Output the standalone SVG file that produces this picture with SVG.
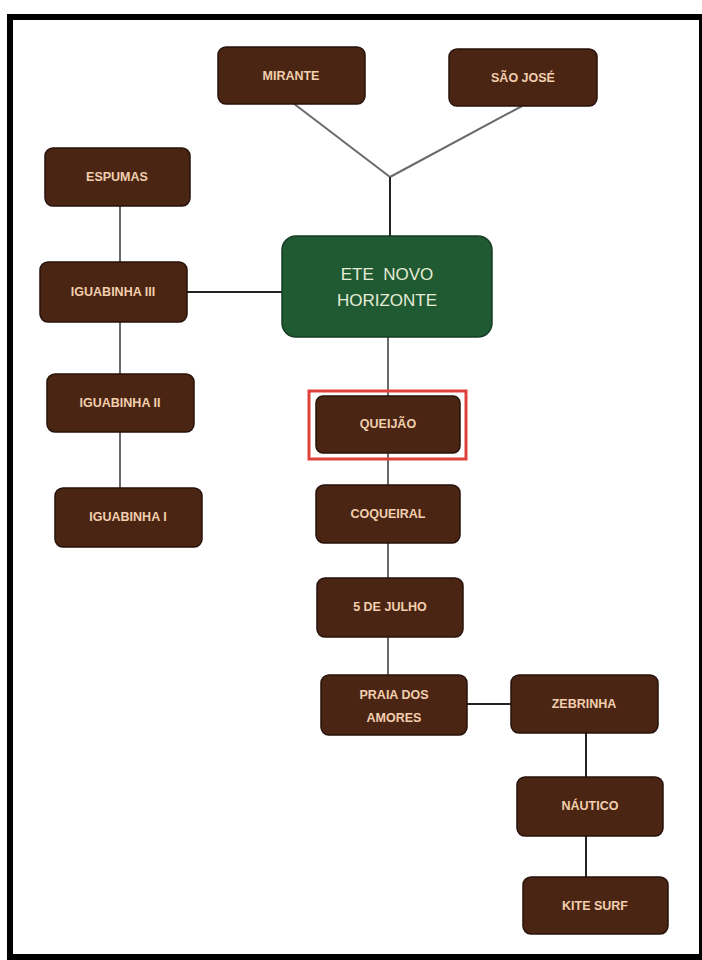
<svg xmlns="http://www.w3.org/2000/svg" width="702" height="960" viewBox="0 0 702 960">
<style>
.n{fill:#4b2513;stroke:#26120a;stroke-width:1.5}
.t{font-family:"Liberation Sans",Arial,sans-serif;font-weight:bold;font-size:12.5px;fill:#f2cfae;text-anchor:middle}
.g{fill:#1f5a33;stroke:#163d24;stroke-width:1.5}
.gt{font-family:"Liberation Sans",Arial,sans-serif;font-size:17px;fill:#e6ecd6;text-anchor:middle}
.c{stroke:#6a6a6a;stroke-width:2;fill:none}
.d{stroke:#222;stroke-width:2;fill:none}
</style>
<rect x="0" y="0" width="702" height="960" fill="#ffffff"/>
<rect x="10" y="17" width="692" height="940" fill="#ffffff" stroke="#000" stroke-width="6"/>
<g id="connectors">
<line class="c" x1="293" y1="103" x2="390" y2="177"/>
<line class="c" x1="522" y1="106" x2="390" y2="177"/>
<line class="d" x1="390" y1="177" x2="390" y2="236"/>
<line class="c" x1="120" y1="206" x2="120" y2="262"/>
<line class="c" x1="120" y1="322" x2="120" y2="374"/>
<line class="c" x1="120" y1="432" x2="120" y2="488"/>
<line class="d" x1="187" y1="292" x2="282" y2="292"/>
<line class="c" x1="388" y1="337" x2="388" y2="396"/>
<line class="c" x1="388" y1="453" x2="388" y2="485"/>
<line class="c" x1="388" y1="543" x2="388" y2="578"/>
<line class="c" x1="388" y1="637" x2="388" y2="675"/>
<line class="d" x1="467" y1="704" x2="511" y2="704"/>
<line class="d" x1="586" y1="733" x2="586" y2="777"/>
<line class="d" x1="586" y1="836" x2="586" y2="877"/>
</g>
<g id="mirante"><rect class="n" x="218" y="47" width="147" height="57" rx="8"/><text class="t" x="291" y="80">MIRANTE</text></g>
<g id="sao-jose"><rect class="n" x="449" y="49" width="148" height="57" rx="8"/><text class="t" x="523" y="82">SÃO JOSÉ</text></g>
<g id="espumas"><rect class="n" x="45" y="148" width="145" height="58" rx="8"/><text class="t" x="117" y="181">ESPUMAS</text></g>
<g id="ete"><rect class="g" x="282" y="236" width="210" height="101" rx="14"/><text class="gt" x="387" y="280" xml:space="preserve">ETE  NOVO</text><text class="gt" x="387" y="306">HORIZONTE</text></g>
<g id="iguabinha-iii"><rect class="n" x="40" y="262" width="147" height="60" rx="8"/><text class="t" x="113" y="296">IGUABINHA III</text></g>
<g id="iguabinha-ii"><rect class="n" x="47" y="374" width="147" height="58" rx="8"/><text class="t" x="120" y="407">IGUABINHA II</text></g>
<g id="iguabinha-i"><rect class="n" x="55" y="488" width="147" height="59" rx="8"/><text class="t" x="128" y="521">IGUABINHA I</text></g>
<g id="queijao"><rect x="309" y="391" width="157" height="68" fill="none" stroke="#e0403a" stroke-width="3"/><rect class="n" x="316" y="396" width="144" height="57" rx="7"/><text class="t" x="388" y="428">QUEIJÃO</text></g>
<g id="coqueiral"><rect class="n" x="316" y="485" width="144" height="58" rx="8"/><text class="t" x="388" y="518">COQUEIRAL</text></g>
<g id="cinco-de-julho"><rect class="n" x="317" y="578" width="146" height="59" rx="8"/><text class="t" x="390" y="611">5 DE JULHO</text></g>
<g id="praia-dos-amores"><rect class="n" x="321" y="675" width="146" height="60" rx="8"/><text class="t" x="394" y="699">PRAIA DOS</text><text class="t" x="394" y="722">AMORES</text></g>
<g id="zebrinha"><rect class="n" x="511" y="675" width="147" height="58" rx="8"/><text class="t" x="584" y="708">ZEBRINHA</text></g>
<g id="nautico"><rect class="n" x="517" y="777" width="146" height="59" rx="8"/><text class="t" x="590" y="810">NÁUTICO</text></g>
<g id="kite-surf"><rect class="n" x="523" y="877" width="145" height="57" rx="8"/><text class="t" x="595" y="910">KITE SURF</text></g>
</svg>
